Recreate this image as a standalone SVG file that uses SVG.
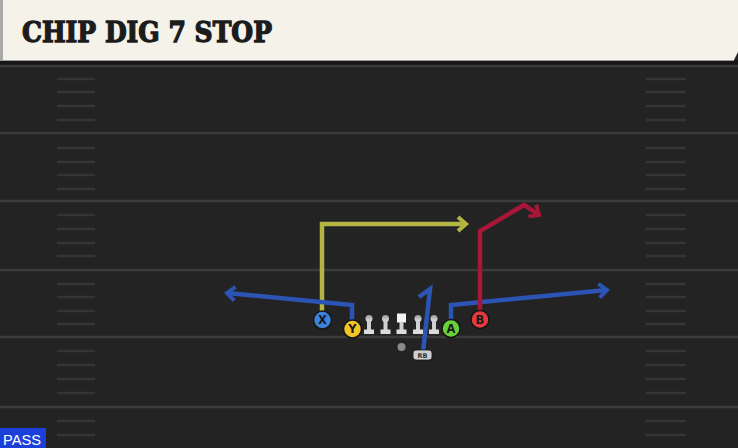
<svg xmlns="http://www.w3.org/2000/svg" width="738" height="448" viewBox="0 0 738 448">
<style>
.yard{stroke:#3b3b3b;stroke-width:2.5}
.hash{stroke:#353535;stroke-width:2.5}
.route{fill:none;stroke-width:4.5;stroke-linejoin:miter;stroke-linecap:butt}
.blue{stroke:#2c54b4}
.yellow{stroke:#b4b443}
.red{stroke:#a8173a}
.pl{stroke:#151515;stroke-width:1.5}
.lbl{font-family:"DejaVu Sans","Liberation Sans",sans-serif;font-weight:bold;font-size:11.5px;fill:#1a1a1a;text-anchor:middle}
</style>
<defs>
<marker id="ab" markerUnits="userSpaceOnUse" markerWidth="20" markerHeight="20" viewBox="-12 -10 16 20" refX="0" refY="0" orient="auto"><path d="M-8,-7 L0,0 L-8,7" fill="none" stroke="#2c54b4" stroke-width="4"/></marker>
<marker id="ay" markerUnits="userSpaceOnUse" markerWidth="20" markerHeight="20" viewBox="-12 -10 16 20" refX="0" refY="0" orient="auto"><path d="M-8,-7 L0,0 L-8,7" fill="none" stroke="#b4b443" stroke-width="4"/></marker>
<marker id="ar" markerUnits="userSpaceOnUse" markerWidth="20" markerHeight="20" viewBox="-12 -10 16 20" refX="0" refY="0" orient="auto"><path d="M-8,-7 L0,0 L-8,7" fill="none" stroke="#a8173a" stroke-width="4"/></marker>
<linearGradient id="lg" x1="0" y1="0" x2="0" y2="1"><stop offset="0" stop-color="#9a9a9a"/><stop offset="1" stop-color="#e6e6e6"/></linearGradient>
</defs>
<rect x="0" y="0" width="738" height="448" fill="#232323"/>
<rect x="0" y="60" width="738" height="5" fill="#161616"/>
<g id="field">
<line class="yard" x1="0" y1="66" x2="738" y2="66"/>
<line class="yard" x1="0" y1="133" x2="738" y2="133"/>
<line class="yard" x1="0" y1="201" x2="738" y2="201"/>
<line class="yard" x1="0" y1="270" x2="738" y2="270"/>
<line class="yard" x1="0" y1="337" x2="738" y2="337"/>
<line class="yard" x1="0" y1="407" x2="738" y2="407"/>
<g class="hash">
<path d="M57,79H95M57,92H95M57,106H95M57,120H95M57,148H95M57,162H95M57,175H95M57,189H95M57,215H95M57,229H95M57,243H95M57,256H95M57,284H95M57,297H95M57,311H95M57,324H95M57,351H95M57,365H95M57,379H95M57,393H95M57,421H95M57,435H95"/>
<path d="M646,79H686M646,92H686M646,106H686M646,120H686M646,148H686M646,162H686M646,175H686M646,189H686M646,215H686M646,229H686M646,243H686M646,256H686M646,284H686M646,297H686M646,311H686M646,324H686M646,351H686M646,365H686M646,379H686M646,393H686M646,421H686M646,435H686"/>
</g>
</g>
<g id="header">
<path d="M0,0 H738 V52 L734,60 H0 Z" fill="#f5f2ea"/>
<rect x="0" y="0" width="3" height="60" fill="#a9a9a9"/>
<line x1="0" y1="60.5" x2="734" y2="60.5" stroke="#9a9a9a" stroke-width="1"/>
<text x="22" y="42" font-family="'DejaVu Serif','Liberation Serif',serif" font-weight="bold" font-size="27" fill="#1c1c1c" stroke="#1c1c1c" stroke-width="1.3" stroke-linejoin="miter" textLength="250" lengthAdjust="spacingAndGlyphs">CHIP DIG 7 STOP</text>
</g>
<g id="connectors">
<path class="route yellow" d="M322,312 V224 H466" marker-end="url(#ay)"/>
<path class="route blue" d="M352,321 V305 L227,293" marker-end="url(#ab)"/>
<path class="route blue" d="M451,320 V305 L607,290" marker-end="url(#ab)"/>
<path class="route red" d="M480,311 V231 L524,205 L539,215" marker-end="url(#ar)"/>
<path class="route blue" d="M423,352 L430,289 L419,297"/>
</g>
<g id="line">
<g id="lt"><circle cx="369" cy="318.5" r="3.5" fill="url(#lg)"/><rect x="367" y="321" width="4" height="9" fill="#d0d0d0"/><rect x="364" y="329.5" width="10" height="4.5" fill="#dcdcdc"/></g>
<g id="lg2"><circle cx="385.5" cy="318.5" r="3.5" fill="url(#lg)"/><rect x="383.5" y="321" width="4" height="9" fill="#d0d0d0"/><rect x="380.5" y="329.5" width="10" height="4.5" fill="#dcdcdc"/></g>
<g id="c"><rect x="397" y="313.5" width="9" height="9" fill="#f4f4f4"/><rect x="399.5" y="322" width="4" height="8" fill="#d0d0d0"/><rect x="396.5" y="329.5" width="10" height="4.5" fill="#dcdcdc"/></g>
<g id="rg"><circle cx="418" cy="318.5" r="3.5" fill="url(#lg)"/><rect x="416" y="321" width="4" height="9" fill="#d0d0d0"/><rect x="413" y="329.5" width="10" height="4.5" fill="#dcdcdc"/></g>
<g id="rt"><circle cx="434" cy="318.5" r="3.5" fill="url(#lg)"/><rect x="432" y="321" width="4" height="9" fill="#d0d0d0"/><rect x="429" y="329.5" width="10" height="4.5" fill="#dcdcdc"/></g>
</g>
<g id="X"><circle class="pl" cx="322.5" cy="320" r="9" fill="#3d82dc"/><text class="lbl" x="322.5" y="324">X</text></g>
<g id="Y"><circle class="pl" cx="352.5" cy="329" r="9" fill="#f2c42a"/><text class="lbl" x="352.5" y="333">Y</text></g>
<g id="A"><circle class="pl" cx="451" cy="328.5" r="9" fill="#68d13a"/><text class="lbl" x="451" y="332.5">A</text></g>
<g id="B"><circle class="pl" cx="480" cy="319.5" r="9" fill="#e6393f"/><text class="lbl" x="480" y="323.5">B</text></g>
<g id="QB"><circle cx="401.5" cy="347" r="4" fill="#8a8a8a"/></g>
<g id="RB"><rect x="413" y="350" width="19" height="10" rx="3" fill="#cfcfcf" stroke="#111" stroke-width="0.8"/><text x="422.5" y="358" font-family="'DejaVu Sans',sans-serif" font-weight="bold" font-size="6.5" fill="#333" text-anchor="middle">RB</text></g>
<g id="tag"><rect x="0" y="428" width="46" height="20" fill="#1d3fd9"/><text x="3" y="445" font-family="'Liberation Sans',Arial,sans-serif" font-size="14.5" fill="#ffffff" textLength="38" lengthAdjust="spacingAndGlyphs">PASS</text></g>
</svg>
